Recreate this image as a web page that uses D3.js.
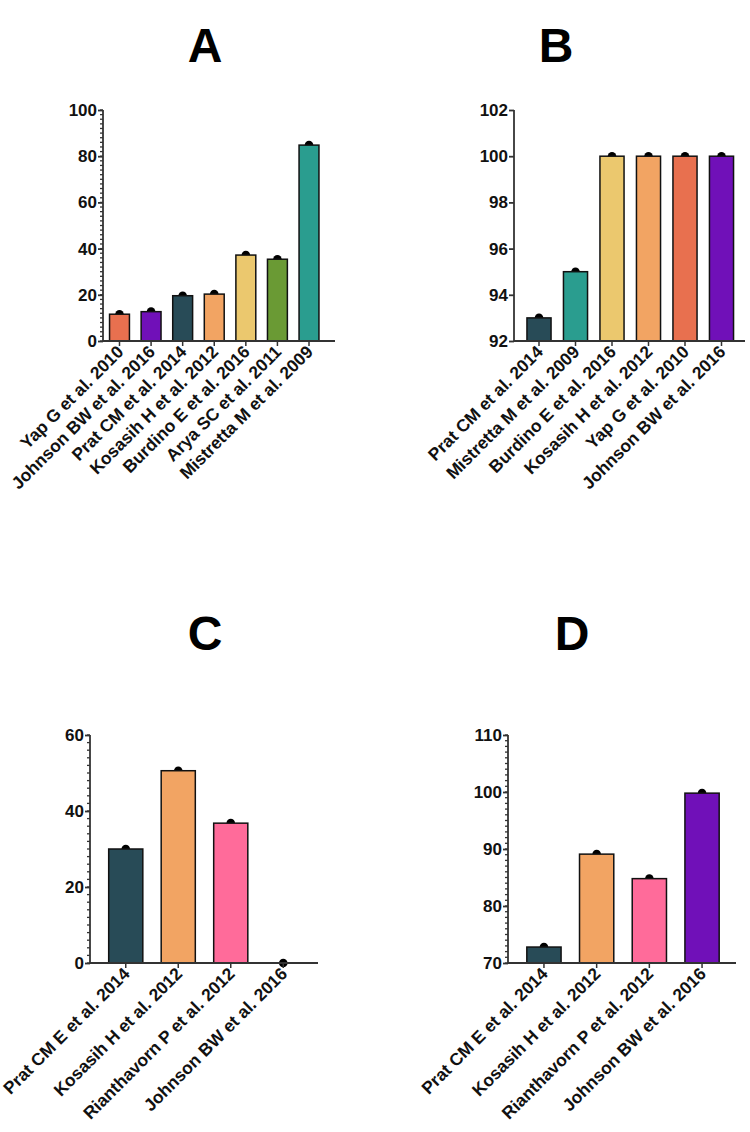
<!DOCTYPE html>
<html>
<head>
<meta charset="utf-8">
<script src="https://cdn.jsdelivr.net/npm/d3@7"></script>
<style>
  body { margin: 0; background: #fff; }
  svg text { font-family: "Liberation Sans", Arial, sans-serif; font-weight: bold; }
</style>
</head>
<body>
<svg id="chart" width="750" height="1132"></svg>
<script>
// panel A
var catsA = ["Yap G et al. 2010", "Johnson BW et al. 2016", "Prat CM et al. 2014", "Kosasih H et al. 2012",
             "Burdino E et al. 2016", "Arya SC et al. 2011", "Mistretta M et al. 2009"];
var valsA = [11.6, 12.7, 19.6, 20.3, 37.2, 35.4, 84.8];
var colorsA = ["#e8704f", "#7010b8", "#284b57", "#f2a463", "#ebc86e", "#6a9a34", "#2a9d8f"];
var ticksA = [0, 20, 40, 60, 80, 100];

// panel B
var catsB = ["Prat CM et al. 2014", "Mistretta M et al. 2009", "Burdino E et al. 2016", "Kosasih H et al. 2012",
             "Yap G et al. 2010", "Johnson BW et al. 2016"];
var valsB = [93, 95, 100, 100, 100, 100];
var colorsB = ["#284b57", "#2a9d8f", "#ebc86e", "#f2a463", "#e8704f", "#7010b8"];
var ticksB = [92, 94, 96, 98, 100, 102];

// panel C
var catsC = ["Prat CM E et al. 2014", "Kosasih H et al. 2012", "Rianthavorn P et al. 2012", "Johnson BW et al. 2016"];
var valsC = [30, 50.6, 36.8, 0];
var colorsC = ["#284b57", "#f2a463", "#ff6b9a", "#7010b8"];
var ticksC = [0, 20, 40, 60];

// panel D
var catsD = ["Prat CM E et al. 2014", "Kosasih H et al. 2012", "Rianthavorn P et al. 2012", "Johnson BW et al. 2016"];
var valsD = [72.8, 89.1, 84.8, 99.8];
var colorsD = ["#284b57", "#f2a463", "#ff6b9a", "#7010b8"];
var ticksD = [70, 80, 90, 100, 110];

var svg = d3.select("#chart");

function drawPanel(p) {
  var g = svg.append("g");

  var y = d3.scaleLinear().domain(p.yDomain).range([p.yBottom, p.yTop]);
  var x = d3.scaleBand().domain(p.cats).range([p.x0, p.x1]).paddingInner(p.pad).paddingOuter(p.pad / 2);

  // title
  g.append("text")
    .attr("x", p.titleX).attr("y", p.titleY)
    .attr("text-anchor", "middle")
    .attr("font-size", 48)
    .text(p.title);

  // minor ticks
  if (p.minor) {
    var minors = d3.range(p.yDomain[0], p.yDomain[1] + 0.001, p.minor);
    g.selectAll(".minor").data(minors).enter().append("line")
      .attr("x1", p.axisX - 3).attr("x2", p.axisX)
      .attr("y1", function(d) { return y(d); })
      .attr("y2", function(d) { return y(d); })
      .attr("stroke", "#333").attr("stroke-width", 1.3);
  }

  // y axis
  var yAxis = g.append("g")
    .attr("transform", "translate(" + p.axisX + ",0)")
    .call(d3.axisLeft(y).tickValues(p.ticks).tickSize(5).tickPadding(1).tickSizeOuter(0));
  yAxis.select(".domain").attr("stroke", "#333").attr("stroke-width", 1.8)
    .attr("d", "M0," + (p.yBottom + 1) + "V" + p.yTop);
  yAxis.selectAll(".tick line").attr("stroke", "#333").attr("stroke-width", 1.8);
  yAxis.selectAll(".tick text").attr("font-size", 17).attr("fill", "#111")
    .attr("font-family", "Liberation Sans, Arial, sans-serif").attr("font-weight", "bold");

  // dots behind bars
  g.selectAll(".dot").data(p.vals).enter().append("circle")
    .attr("cx", function(d, i) { return x(p.cats[i]) + x.bandwidth() / 2; })
    .attr("cy", function(d) { return y(d); })
    .attr("r", 4.3)
    .attr("fill", "#000");

  // bars (a zero value only shows its dot)
  g.selectAll(".bar").data(p.vals).enter()
    .filter(function(d) { return d > p.yDomain[0]; })
    .append("rect")
    .attr("x", function(d, i) { return x(p.cats[i]); })
    .attr("y", function(d) { return y(d); })
    .attr("width", x.bandwidth())
    .attr("height", function(d) { return y(p.yDomain[0]) - y(d); })
    .attr("fill", function(d, i) { return p.colors[i]; })
    .attr("stroke", "#111")
    .attr("stroke-width", 1.5);

  // x axis
  var xAxis = g.append("g")
    .attr("transform", "translate(0," + p.yBottom + ")")
    .call(d3.axisBottom(x).tickSize(5).tickSizeOuter(0).tickFormat(""));
  xAxis.select(".domain").attr("stroke", "#333").attr("stroke-width", 1.8)
    .attr("d", "M" + p.axisX + ",0H" + p.axisEnd);
  xAxis.selectAll(".tick line").attr("stroke", "#333").attr("stroke-width", 1.5);

  // rotated category labels
  g.selectAll(".lab").data(p.cats).enter().append("text")
    .attr("transform", function(d) {
      return "translate(" + (x(d) + x.bandwidth() / 2 + 5) + "," + (p.yBottom + 12) + ") rotate(-45)";
    })
    .attr("text-anchor", "end")
    .attr("font-size", 17.4)
    .attr("fill", "#111")
    .text(function(d) { return d; });
}

drawPanel({ title: "A", titleX: 205, titleY: 62, cats: catsA, vals: valsA, colors: colorsA, ticks: ticksA,
  yDomain: [0, 100], yTop: 110, yBottom: 341, axisX: 103, axisEnd: 335, x0: 103.7, x1: 324.8, pad: 0.37, minor: 2 });
drawPanel({ title: "B", titleX: 556, titleY: 62, cats: catsB, vals: valsB, colors: colorsB, ticks: ticksB,
  yDomain: [92, 102], yTop: 110, yBottom: 341, axisX: 514, axisEnd: 745, x0: 520.75, x1: 739.75, pad: 0.34, minor: 0 });
drawPanel({ title: "C", titleX: 205, titleY: 650, cats: catsC, vals: valsC, colors: colorsC, ticks: ticksC,
  yDomain: [0, 60], yTop: 735, yBottom: 963, axisX: 90, axisEnd: 318, x0: 99.5, x1: 309.5, pad: 0.35, minor: 2 });
drawPanel({ title: "D", titleX: 572, titleY: 650, cats: catsD, vals: valsD, colors: colorsD, ticks: ticksD,
  yDomain: [70, 110], yTop: 735, yBottom: 963, axisX: 508, axisEnd: 736, x0: 517.6, x1: 728.4, pad: 0.35, minor: 1 });
</script>
</body>
</html>
